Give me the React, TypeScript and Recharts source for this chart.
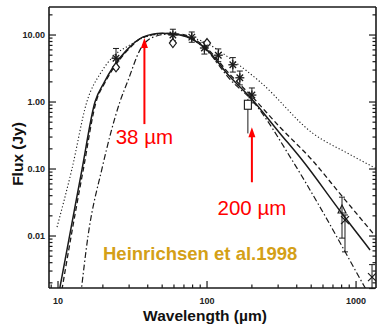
import React from "react";
import {
  ComposedChart,
  ErrorBar,
  Line,
  ReferenceDot,
  Scatter,
  XAxis,
  YAxis,
} from "recharts";

const FONT = '"Liberation Sans", Arial, Helvetica, sans-serif';

// model curves: wavelength (µm) / flux (Jy)
const solidWave = [10, 12, 14.5, 17.7, 20.5, 23.4, 29, 37, 50, 66, 100, 142, 194, 309, 435, 800, 1242];
const solidFlux = [0.0012, 0.0105, 0.1, 1.0, 2.0, 3.3, 6, 9.3, 10.6, 10, 6, 2.4, 1.19, 0.34, 0.136, 0.022, 0.0062];

const dashWave = [10.4, 12.3, 14.8, 18, 20.8, 23.8, 29.5, 37.5, 52, 68, 100, 142, 194, 309, 507, 800, 1300];
const dashFlux = [0.0012, 0.0105, 0.1, 1.0, 2.0, 3.3, 6, 9.3, 10.6, 10.2, 6.3, 2.6, 1.3, 0.42, 0.136, 0.04, 0.011];

const dashDotWave = [14.2, 15.9, 19.7, 26, 29.5, 35.5, 43.5, 55, 70, 100, 142, 205, 372, 573, 1148, 1350];
const dashDotFlux = [0.0013, 0.01, 0.1, 1.0, 2.1, 6, 9.3, 10.3, 9.8, 5.8, 2.2, 1.0, 0.136, 0.027, 0.0017, 0.0009];

const dotWave = [9.85, 12.4, 15.6, 19.5, 24, 30, 40, 55, 75, 100, 142, 227, 514, 900, 1384];
const dotFlux = [0.0136, 0.1, 1.0, 2.8, 5, 7, 9.6, 10.5, 9.5, 7.5, 4.5, 2.0, 0.34, 0.167, 0.1];

// observations
const starWave = [24.5, 59, 79, 96, 119, 149, 166, 200];
const starFlux = [4.5, 10, 9.3, 6.4, 5, 3.6, 2.3, 1.27];
const starErr = [[1.4, 1.8], [1.8, 2.2], [1.5, 1.8], [1.2, 1.4], [1, 1.2], [0.8, 1], [0.5, 0.6], [0.3, 0.35]];

const diamondWave = [24.5, 59, 100];
const diamondFlux = [3.3, 7.6, 7.6];

const squareWave = [188];
const squareFlux = [0.91];
const squareErr = [[0.57, 0.2]];

const triWave = [805];
const triFlux = [0.0244];
const triErr = [[0.0151, 0.0136]];

const crossWave = [843, 1280];
const crossFlux = [0.0173, 0.00244];
const crossErr = [[0.0115, 0.0033], [0.0008, 0.0013]];

// axes
const xTicks = [9, 10, 20, 30, 40, 50, 60, 70, 80, 90, 100, 200, 300, 400, 500, 600, 700, 800, 900, 1000];
const xMajor = [10, 100, 1000];
const xMajorLabels = ["10", "100", "1000"];
const yTicks = [
  0.002, 0.003, 0.004, 0.005, 0.006, 0.007, 0.008, 0.009, 0.01,
  0.02, 0.03, 0.04, 0.05, 0.06, 0.07, 0.08, 0.09, 0.1,
  0.2, 0.3, 0.4, 0.5, 0.6, 0.7, 0.8, 0.9, 1,
  2, 3, 4, 5, 6, 7, 8, 9, 10, 20,
];
const yMajor = [0.01, 0.1, 1, 10];
const yMajorLabels = ["0.01", "0.10", "1.00", "10.00"];

const xDomain = [8.7, 1361];
const yDomain = [0.001675, 26.2];

const pts = (w: number[], f: number[], e?: number[][]) =>
  w.map((x, i) => ({ w: x, f: f[i], e: e ? e[i] : undefined }));

const majorIndex = (v: number, majors: number[]) =>
  majors.findIndex((m) => Math.abs(v / m - 1) < 1e-6);

const INK = "#1a1a1a";

function BottomTick({ x, y, payload }: any) {
  const i = majorIndex(payload.value, xMajor);
  return (
    <g>
      <line x1={x} y1={y} x2={x} y2={y - (i >= 0 ? 7 : 3.5)} stroke={INK} strokeWidth={1.2} />
      {i >= 0 && (
        <text x={x} y={y + 16} textAnchor="middle" fontSize={9} fontWeight="bold" fill="#222" fontFamily={FONT}>
          {xMajorLabels[i]}
        </text>
      )}
    </g>
  );
}

function TopTick({ x, y, payload }: any) {
  const i = majorIndex(payload.value, xMajor);
  return <line x1={x} y1={y} x2={x} y2={y + (i >= 0 ? 7 : 3.5)} stroke={INK} strokeWidth={1.2} />;
}

function LeftTick({ x, y, payload }: any) {
  const i = majorIndex(payload.value, yMajor);
  return (
    <g>
      <line x1={x} y1={y} x2={x + (i >= 0 ? 7 : 3.5)} y2={y} stroke={INK} strokeWidth={1.2} />
      {i >= 0 && (
        <text x={x - 4} y={y + 3.2} textAnchor="end" fontSize={9} fontWeight="bold" fill="#222" fontFamily={FONT}>
          {yMajorLabels[i]}
        </text>
      )}
    </g>
  );
}

function RightTick({ x, y, payload }: any) {
  const i = majorIndex(payload.value, yMajor);
  return <line x1={x} y1={y} x2={x - (i >= 0 ? 7 : 3.5)} y2={y} stroke={INK} strokeWidth={1.2} />;
}

function Star({ cx, cy }: any) {
  const r = 4.5;
  const d = r * 0.72;
  return (
    <g stroke={INK} strokeWidth={1.3}>
      <line x1={cx} y1={cy - r} x2={cx} y2={cy + r} />
      <line x1={cx - r} y1={cy} x2={cx + r} y2={cy} />
      <line x1={cx - d} y1={cy - d} x2={cx + d} y2={cy + d} />
      <line x1={cx - d} y1={cy + d} x2={cx + d} y2={cy - d} />
    </g>
  );
}

function Diamond({ cx, cy }: any) {
  return (
    <polygon
      points={`${cx},${cy - 4.5} ${cx + 3.5},${cy} ${cx},${cy + 4.5} ${cx - 3.5},${cy}`}
      fill="#fff"
      stroke={INK}
      strokeWidth={1.2}
    />
  );
}

function Square({ cx, cy }: any) {
  return <rect x={cx - 3.5} y={cy - 4.5} width={7} height={9} fill="#fff" stroke={INK} strokeWidth={1.1} />;
}

function Triangle({ cx, cy }: any) {
  return (
    <polygon
      points={`${cx},${cy - 5} ${cx + 4},${cy + 3} ${cx - 4},${cy + 3}`}
      fill="none"
      stroke={INK}
      strokeWidth={1.1}
    />
  );
}

function Cross({ cx, cy }: any) {
  return (
    <g stroke={INK} strokeWidth={1.2}>
      <line x1={cx - 4} y1={cy - 4} x2={cx + 4} y2={cy + 4} />
      <line x1={cx - 4} y1={cy + 4} x2={cx + 4} y2={cy - 4} />
    </g>
  );
}

const arrow = (len: number, textOffset: number, label: string) => ({ cx, cy }: any) => (
  <g>
    <line x1={cx} y1={cy + 6} x2={cx} y2={cy + len} stroke="#ff0000" strokeWidth={2} />
    <polygon points={`${cx - 3.5},${cy + 10} ${cx},${cy} ${cx + 3.5},${cy + 10}`} fill="#ff0000" />
    <text x={cx} y={cy + textOffset} textAnchor="middle" fontSize={20.5} fill="#ff0000" fontFamily={FONT}>
      {label}
    </text>
  </g>
);

export default function App() {
  return (
    <div style={{ position: "absolute", left: 0, top: 0, width: 378, height: 328, background: "#fff" }}>
      <ComposedChart width={378} height={328} margin={{ top: 6, right: 1, bottom: 39, left: 48 }}>
        <XAxis
          dataKey="w"
          type="number"
          scale="log"
          domain={xDomain}
          allowDataOverflow
          ticks={xTicks}
          interval={0}
          height={1}
          tickSize={0}
          tickMargin={0}
          tickLine={false}
          tick={(p: any) => <BottomTick {...p} />}
          axisLine={{ stroke: INK, strokeWidth: 1.6 }}
        />
        <XAxis
          xAxisId="top"
          orientation="top"
          type="number"
          scale="log"
          domain={xDomain}
          allowDataOverflow
          ticks={xTicks}
          interval={0}
          height={1}
          tickSize={0}
          tickMargin={0}
          tickLine={false}
          tick={(p: any) => <TopTick {...p} />}
          axisLine={{ stroke: INK, strokeWidth: 1.6 }}
        />
        <YAxis
          dataKey="f"
          type="number"
          scale="log"
          domain={yDomain}
          allowDataOverflow
          ticks={yTicks}
          interval={0}
          width={1}
          tickSize={0}
          tickMargin={0}
          tickLine={false}
          tick={(p: any) => <LeftTick {...p} />}
          axisLine={{ stroke: INK, strokeWidth: 1.6 }}
        />
        <YAxis
          yAxisId="right"
          orientation="right"
          type="number"
          scale="log"
          domain={yDomain}
          allowDataOverflow
          ticks={yTicks}
          interval={0}
          width={1}
          tickSize={0}
          tickMargin={0}
          tickLine={false}
          tick={(p: any) => <RightTick {...p} />}
          axisLine={{ stroke: INK, strokeWidth: 1.6 }}
        />

        <Line data={pts(dotWave, dotFlux)} dataKey="f" type="monotone" dot={false} stroke={INK} strokeWidth={1.1} strokeDasharray="1.2 2.2" isAnimationActive={false} />
        <Line data={pts(dashDotWave, dashDotFlux)} dataKey="f" type="monotone" dot={false} stroke={INK} strokeWidth={1.2} strokeDasharray="6 2.5 1.5 2.5" isAnimationActive={false} />
        <Line data={pts(dashWave, dashFlux)} dataKey="f" type="monotone" dot={false} stroke={INK} strokeWidth={1.3} strokeDasharray="5 3" isAnimationActive={false} />
        <Line data={pts(solidWave, solidFlux)} dataKey="f" type="monotone" dot={false} stroke={INK} strokeWidth={1.5} isAnimationActive={false} />

        <Scatter data={pts(diamondWave, diamondFlux)} dataKey="f" shape={<Diamond />} isAnimationActive={false} />
        <Scatter data={pts(squareWave, squareFlux, squareErr)} dataKey="f" shape={<Square />} isAnimationActive={false}>
          <ErrorBar dataKey="e" direction="y" width={0} stroke={INK} strokeWidth={1} isAnimationActive={false} />
        </Scatter>
        <Scatter data={pts(starWave, starFlux, starErr)} dataKey="f" shape={<Star />} isAnimationActive={false}>
          <ErrorBar dataKey="e" direction="y" width={3} stroke={INK} strokeWidth={1} isAnimationActive={false} />
        </Scatter>
        <Scatter data={pts(triWave, triFlux, triErr)} dataKey="f" shape={<Triangle />} isAnimationActive={false}>
          <ErrorBar dataKey="e" direction="y" width={3} stroke={INK} strokeWidth={1} isAnimationActive={false} />
        </Scatter>
        <Scatter data={pts(crossWave, crossFlux, crossErr)} dataKey="f" shape={<Cross />} isAnimationActive={false}>
          <ErrorBar dataKey="e" direction="y" width={3} stroke={INK} strokeWidth={1} isAnimationActive={false} />
        </Scatter>

        <ReferenceDot x={38} y={9.0} r={0} shape={arrow(86, 106, "38 µm")} />
        <ReferenceDot x={200} y={0.42} r={0} shape={arrow(55, 88, "200 µm")} />

        <text x={103} y={260} fontSize={18.5} fontWeight="bold" fill="#d4a017" fontFamily={FONT}>
          Heinrichsen et al.1998
        </text>
        <text x={205} y={321} textAnchor="middle" fontSize={15.5} fontWeight="bold" fill="#111" fontFamily={FONT}>
          Wavelength (µm)
        </text>
        <text
          x={17}
          y={154}
          transform="rotate(-90 17 154)"
          textAnchor="middle"
          dominantBaseline="central"
          fontSize={15.5}
          fontWeight="bold"
          fill="#111"
          fontFamily={FONT}
        >
          Flux (Jy)
        </text>
      </ComposedChart>
    </div>
  );
}
